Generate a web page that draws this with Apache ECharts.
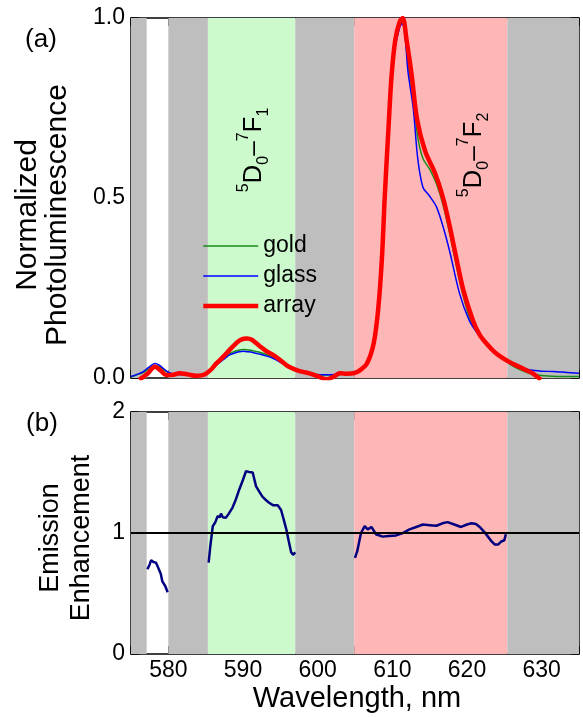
<!DOCTYPE html>
<html>
<head>
<meta charset="UTF-8">
<title>Photoluminescence</title>
<script src="https://cdn.jsdelivr.net/npm/echarts@6/dist/echarts.min.js"></script>
<style>
html,body{margin:0;padding:0;background:#fff;}
#chart{width:583px;height:717px;}
</style>
</head>
<body>
<div id="chart"></div>
<script>
// wavelength range and ticks
var xMin = 575, xMax = 635, xStep = 5;

// shaded bands (nm)
var bandFrom  = [575,     580,     585.3,   597.0,   604.9,   625.4];
var bandTo    = [577.1,   585.3,   597.0,   604.9,   625.4,   635];
var bandColor = ['#bebebe','#bebebe','#ccfacc','#bebebe','#ffb6b6','#bebebe'];

// (a) normalized PL - array
var wlArray = [576.1, 577.2, 578.2, 579.0, 579.7, 580.5, 581.5, 582.6, 583.7, 584.6, 585.1, 585.8, 586.4, 587.3, 588.2, 589.0, 589.5, 590.1, 590.6, 591.2, 591.7, 592.4, 593.1, 593.8, 594.4, 595.1, 595.8, 596.5, 597.2, 598.0, 598.9, 600.0, 601.2, 602.1, 603.0, 603.9, 604.8, 605.7, 606.6, 607.5, 608.1, 608.6, 609.0, 609.5, 609.9, 610.4, 611.0, 611.4, 611.9, 612.6, 613.3, 614.4, 615.7, 616.8, 617.7, 618.6, 619.5, 620.8, 621.7, 622.6, 623.7, 624.8, 625.9, 627.0, 628.0, 628.8, 629.9];
var plArray = [-0.005, 0.012, 0.031, 0.02, 0.008, 0.008, 0.013, 0.01, 0.006, 0.008, 0.013, 0.025, 0.04, 0.058, 0.078, 0.095, 0.104, 0.109, 0.11, 0.106, 0.098, 0.086, 0.075, 0.067, 0.059, 0.048, 0.036, 0.028, 0.022, 0.017, 0.013, 0.005, -0.004, 0.003, 0.013, 0.012, 0.013, 0.022, 0.04, 0.096, 0.19, 0.33, 0.51, 0.70, 0.84, 0.94, 0.99, 1.0, 0.94, 0.84, 0.72, 0.63, 0.57, 0.50, 0.42, 0.33, 0.245, 0.16, 0.12, 0.096, 0.072, 0.055, 0.042, 0.031, 0.021, 0.013, -0.005];

// (a) glass
var wlGlass = [575.0, 575.8, 576.6, 577.4, 578.2, 578.8, 579.3, 580.0, 580.6, 581.5, 582.5, 583.5, 584.5, 585.3, 586.4, 587.3, 588.2, 589.0, 589.5, 590.1, 590.6, 591.3, 592.1, 593.0, 594.0, 594.9, 595.8, 596.7, 597.6, 598.7, 599.8, 601.2, 602.5, 603.8, 605.2, 606.6, 607.5, 608.1, 608.6, 609.0, 609.5, 609.9, 610.4, 611.0, 611.3, 611.7, 612.1, 612.8, 613.4, 614.1, 615.0, 615.9, 616.8, 617.7, 619.0, 620.3, 621.4, 622.5, 623.7, 625.0, 626.0, 627.0, 628.5, 630.0, 631.5, 633.0, 635.0];
var plGlass = [0.004, 0.01, 0.017, 0.03, 0.04, 0.036, 0.027, 0.016, 0.011, 0.01, 0.009, 0.008, 0.008, 0.015, 0.036, 0.05, 0.064, 0.07, 0.073, 0.074, 0.073, 0.071, 0.067, 0.062, 0.055, 0.045, 0.033, 0.025, 0.02, 0.014, 0.01, 0.009, 0.01, 0.012, 0.017, 0.035, 0.09, 0.18, 0.32, 0.49, 0.68, 0.82, 0.92, 0.975, 0.985, 0.95, 0.85, 0.75, 0.61, 0.53, 0.505, 0.476, 0.42, 0.35, 0.235, 0.16, 0.124, 0.095, 0.07, 0.05, 0.038, 0.03, 0.022, 0.019, 0.018, 0.016, 0.013];

// (a) gold
var wlGold = [575.0, 575.8, 576.6, 577.4, 578.2, 578.8, 579.3, 580.0, 580.6, 581.5, 582.5, 583.5, 584.5, 585.3, 586.4, 587.3, 588.2, 589.0, 589.5, 590.1, 590.6, 591.3, 592.1, 593.0, 594.0, 594.9, 595.8, 596.7, 597.6, 598.7, 599.8, 601.2, 602.5, 603.8, 605.2, 606.6, 607.5, 608.1, 608.6, 609.0, 609.5, 609.9, 610.4, 611.0, 611.3, 611.7, 612.1, 612.8, 613.4, 614.1, 615.0, 615.9, 616.8, 617.7, 619.0, 620.3, 621.4, 622.5, 623.7, 625.0, 626.0, 627.0, 628.5, 630.0, 631.5, 633.0, 635.0];
var plGold = [0.003, 0.009, 0.015, 0.026, 0.035, 0.032, 0.024, 0.015, 0.011, 0.01, 0.009, 0.008, 0.008, 0.015, 0.037, 0.053, 0.068, 0.075, 0.078, 0.079, 0.078, 0.076, 0.072, 0.066, 0.058, 0.047, 0.034, 0.025, 0.019, 0.013, 0.009, 0.008, 0.009, 0.011, 0.016, 0.035, 0.09, 0.18, 0.32, 0.49, 0.68, 0.83, 0.93, 0.98, 0.99, 0.955, 0.87, 0.78, 0.67, 0.61, 0.58, 0.54, 0.48, 0.40, 0.27, 0.17, 0.128, 0.098, 0.072, 0.05, 0.035, 0.024, 0.012, 0.007, 0.005, 0.004, 0.004];

// (b) emission enhancement, '-' breaks the line between bands
var wlEnh = [577.2, 577.5, 577.7, 578.0, 578.35, 578.6, 578.8, 579.0, 579.2, 579.4, 579.6, 579.9,
  582,
  585.4, 585.6, 585.95, 586.3, 586.6, 586.9, 587.05, 587.3, 587.7, 588.1, 588.6, 589.0, 589.5, 590.0, 590.4, 590.8, 591.3, 591.75, 592.2, 592.6, 593.1, 593.5, 594.0, 594.65, 595.1, 595.5, 595.8, 596.1, 596.45, 596.7, 597.0,
  601,
  605.0, 605.3, 605.5, 605.8, 606.3, 606.7, 607.2, 607.8, 608.7, 609.5, 610.5, 611.4, 612.3, 613.2, 614.1, 615.0, 615.9, 616.7, 617.4, 618.3, 619.2, 620.0, 620.6, 621.2, 621.7, 622.3, 622.8, 623.3, 623.7, 624.2, 624.6, 625.0, 625.2];
var enh = [0.70, 0.74, 0.776, 0.76, 0.755, 0.72, 0.69, 0.66, 0.60, 0.59, 0.56, 0.51,
  '-',
  0.755, 0.88, 1.056, 1.09, 1.14, 1.13, 1.16, 1.13, 1.125, 1.16, 1.21, 1.27, 1.36, 1.44, 1.51, 1.505, 1.50, 1.385, 1.34, 1.30, 1.27, 1.25, 1.23, 1.23, 1.19, 1.10, 1.03, 0.94, 0.84, 0.82, 0.84,
  '-',
  0.795, 0.85, 0.86, 1.00, 1.056, 1.03, 1.05, 0.99, 0.97, 0.975, 0.98, 1.0, 1.03, 1.05, 1.07, 1.065, 1.06, 1.08, 1.09, 1.07, 1.05, 1.07, 1.08, 1.075, 1.05, 1.01, 0.97, 0.93, 0.905, 0.905, 0.93, 0.94, 0.99];
var enhRef = 1;

var font = "'Liberation Sans', Arial, sans-serif";

function zip(a, b) {
  var out = [];
  for (var i = 0; i < a.length; i++) out.push([a[i], b[i]]);
  return out;
}
function bandAreas() {
  var out = [];
  for (var i = 0; i < bandFrom.length; i++) {
    out.push([{ xAxis: bandFrom[i], itemStyle: { color: bandColor[i] } }, { xAxis: bandTo[i] }]);
  }
  return out;
}

var grids = [
  { left: 131, top: 18, width: 448, height: 360 },
  { left: 131, top: 412, width: 448, height: 242 }
];

var axisLine = { show: true, onZero: false, lineStyle: { color: '#000', width: 1.5 } };
var tick = { show: true, inside: true, length: 8, lineStyle: { color: '#000', width: 1.5 } };

function xAx(gi, pos, labels) {
  return {
    type: 'value', gridIndex: gi, position: pos, min: xMin, max: xMax, interval: xStep,
    axisLine: axisLine, axisTick: tick, splitLine: { show: false },
    axisLabel: {
      show: labels, color: '#000', fontFamily: font, fontSize: 23, margin: 5,
      formatter: function (v) { return v % 10 === 0 && v > xMin && v < xMax ? String(v) : ''; }
    }
  };
}
function yAx(gi, pos, max, step, labels, fmt) {
  return {
    type: 'value', gridIndex: gi, position: pos, min: 0, max: max, interval: step,
    axisLine: axisLine, axisTick: tick, splitLine: { show: false },
    axisLabel: { show: labels, color: '#000', fontFamily: font, fontSize: 23, margin: 6, formatter: fmt }
  };
}
// 5D0-7Fn label, rotated
function transition(n, x, y) {
  return {
    type: 'text', x: x, y: y, z: 20, rotation: Math.PI / 2,
    style: {
      text: '{sp|5}{m|D}{sb|0}{m|–}{sp|7}{m|F}{sb|' + n + '}', align: 'center', verticalAlign: 'middle',
      rich: {
        m: { fontFamily: font, fontSize: 26, lineHeight: 36, fill: '#000', verticalAlign: 'middle' },
        sp: { fontFamily: font, fontSize: 16, lineHeight: 36, fill: '#000', verticalAlign: 'top' },
        sb: { fontFamily: font, fontSize: 16, lineHeight: 36, fill: '#000', verticalAlign: 'bottom' }
      }
    }
  };
}

var chart = echarts.init(document.getElementById('chart'), null, { renderer: 'canvas' });

var option = {
  animation: false,
  backgroundColor: '#fff',
  grid: grids,
  xAxis: [xAx(0, 'bottom', false), xAx(0, 'top', false), xAx(1, 'bottom', true), xAx(1, 'top', false)],
  yAxis: [
    yAx(0, 'left', 1, 0.25, true, function (v) { return (v * 2) % 1 === 0 ? v.toFixed(1) : ''; }),
    yAx(0, 'right', 1, 0.25, false),
    yAx(1, 'left', 2, 0.5, true, function (v) { return v % 1 === 0 ? String(v) : ''; }),
    yAx(1, 'right', 2, 0.5, false)
  ],
  legend: {
    data: ['gold', 'glass', 'array'],
    orient: 'vertical', left: 196, top: 229, z: 20,
    itemWidth: 55, itemHeight: 10, itemGap: 6,
    itemStyle: { opacity: 0 },
    lineStyle: { width: 'inherit' },
    textStyle: { color: '#000', fontFamily: font, fontSize: 23, lineHeight: 24 },
    selectedMode: false
  },
  series: [
    { name: 'bandsA', type: 'line', xAxisIndex: 0, yAxisIndex: 0, data: [], z: 1, silent: true,
      markArea: { silent: true, data: bandAreas() } },
    { name: 'bandsB', type: 'line', xAxisIndex: 2, yAxisIndex: 2, data: [], z: 1, silent: true,
      markArea: { silent: true, data: bandAreas() } },
    { name: 'gold', type: 'line', xAxisIndex: 0, yAxisIndex: 0, data: zip(wlGold, plGold), z: 3,
      showSymbol: false, symbol: 'none', smooth: 0.3, color: '#178a17', lineStyle: { width: 1.5, color: '#178a17' } },
    { name: 'glass', type: 'line', xAxisIndex: 0, yAxisIndex: 0, data: zip(wlGlass, plGlass), z: 4,
      showSymbol: false, symbol: 'none', smooth: 0.3, color: '#0000ff', lineStyle: { width: 1.5, color: '#0000ff' } },
    { name: 'array', type: 'line', xAxisIndex: 0, yAxisIndex: 0, data: zip(wlArray, plArray), z: 5,
      showSymbol: false, symbol: 'none', smooth: 0.3, color: '#ff0000', lineStyle: { width: 4.5, color: '#ff0000' } },
    { name: 'enhancement', type: 'line', xAxisIndex: 2, yAxisIndex: 2, data: zip(wlEnh, enh), z: 4,
      showSymbol: false, symbol: 'none', connectNulls: false, color: '#000080', lineStyle: { width: 2.5, color: '#000080' },
      markLine: { silent: true, symbol: 'none', label: { show: false },
        lineStyle: { color: '#000', width: 2, type: 'solid' }, data: [{ yAxis: enhRef }] } }
  ],
  graphic: [
    { type: 'text', x: 41, y: 40, z: 20, style: { text: '(a)', fontFamily: font, fontSize: 26, fill: '#000', align: 'center', verticalAlign: 'middle' } },
    { type: 'text', x: 42, y: 424, z: 20, style: { text: '(b)', fontFamily: font, fontSize: 26, fill: '#000', align: 'center', verticalAlign: 'middle' } },
    { type: 'text', x: 43, y: 215, z: 20, rotation: Math.PI / 2,
      style: { text: 'Normalized\nPhotoluminescence', fontFamily: font, fontSize: 30, lineHeight: 30, fill: '#000', align: 'center', verticalAlign: 'middle' } },
    { type: 'text', x: 66, y: 538, z: 20, rotation: Math.PI / 2,
      style: { text: 'Emission\nEnhancement', fontFamily: font, fontSize: 27, lineHeight: 31, fill: '#000', align: 'center', verticalAlign: 'middle' } },
    { type: 'text', x: 357, y: 699, z: 20,
      style: { text: 'Wavelength, nm', fontFamily: font, fontSize: 29, fill: '#000', align: 'center', verticalAlign: 'middle' } },
    transition(1, 254, 150),
    transition(2, 474, 155)
  ]
};

chart.setOption(option);
</script>
</body>
</html>
